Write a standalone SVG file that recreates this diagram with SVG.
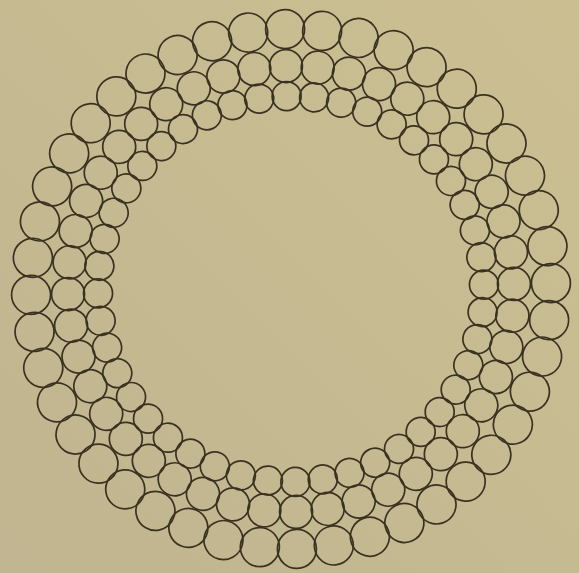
<svg xmlns="http://www.w3.org/2000/svg" xmlns:xlink="http://www.w3.org/1999/xlink" width="579" height="573" viewBox="0 0 579 573">
<style>
.c{fill:none;stroke:#3a3220;stroke-width:1.7}
</style>
<defs>
<linearGradient id="bg" x1="0" y1="1" x2="1" y2="0">
<stop offset="0" stop-color="#c0b590"/>
<stop offset="1" stop-color="#cbbf92"/>
</linearGradient>
<g id="spoke">
<circle class="c" cx="291" cy="29" r="19.5"/>
<circle class="c" cx="291" cy="66" r="16.5"/>
<circle class="c" cx="291" cy="96" r="14.5"/>
</g>
</defs>
<rect width="579" height="573" fill="url(#bg)"/>
<g id="rings">
<use href="#spoke" transform="rotate(-1.3 291 289)"/>
<use href="#spoke" transform="rotate(6.88 291 289)"/>
<use href="#spoke" transform="rotate(15.06 291 289)"/>
<use href="#spoke" transform="rotate(23.25 291 289)"/>
<use href="#spoke" transform="rotate(31.43 291 289)"/>
<use href="#spoke" transform="rotate(39.61 291 289)"/>
<use href="#spoke" transform="rotate(47.79 291 289)"/>
<use href="#spoke" transform="rotate(55.97 291 289)"/>
<use href="#spoke" transform="rotate(64.15 291 289)"/>
<use href="#spoke" transform="rotate(72.34 291 289)"/>
<use href="#spoke" transform="rotate(80.52 291 289)"/>
<use href="#spoke" transform="rotate(88.7 291 289)"/>
<use href="#spoke" transform="rotate(96.88 291 289)"/>
<use href="#spoke" transform="rotate(105.06 291 289)"/>
<use href="#spoke" transform="rotate(113.25 291 289)"/>
<use href="#spoke" transform="rotate(121.43 291 289)"/>
<use href="#spoke" transform="rotate(129.61 291 289)"/>
<use href="#spoke" transform="rotate(137.79 291 289)"/>
<use href="#spoke" transform="rotate(145.97 291 289)"/>
<use href="#spoke" transform="rotate(154.15 291 289)"/>
<use href="#spoke" transform="rotate(162.34 291 289)"/>
<use href="#spoke" transform="rotate(170.52 291 289)"/>
<use href="#spoke" transform="rotate(178.7 291 289)"/>
<use href="#spoke" transform="rotate(186.88 291 289)"/>
<use href="#spoke" transform="rotate(195.06 291 289)"/>
<use href="#spoke" transform="rotate(203.25 291 289)"/>
<use href="#spoke" transform="rotate(211.43 291 289)"/>
<use href="#spoke" transform="rotate(219.61 291 289)"/>
<use href="#spoke" transform="rotate(227.79 291 289)"/>
<use href="#spoke" transform="rotate(235.97 291 289)"/>
<use href="#spoke" transform="rotate(244.15 291 289)"/>
<use href="#spoke" transform="rotate(252.34 291 289)"/>
<use href="#spoke" transform="rotate(260.52 291 289)"/>
<use href="#spoke" transform="rotate(268.7 291 289)"/>
<use href="#spoke" transform="rotate(276.88 291 289)"/>
<use href="#spoke" transform="rotate(285.06 291 289)"/>
<use href="#spoke" transform="rotate(293.25 291 289)"/>
<use href="#spoke" transform="rotate(301.43 291 289)"/>
<use href="#spoke" transform="rotate(309.61 291 289)"/>
<use href="#spoke" transform="rotate(317.79 291 289)"/>
<use href="#spoke" transform="rotate(325.97 291 289)"/>
<use href="#spoke" transform="rotate(334.15 291 289)"/>
<use href="#spoke" transform="rotate(342.34 291 289)"/>
<use href="#spoke" transform="rotate(350.52 291 289)"/>
</g>
</svg>
